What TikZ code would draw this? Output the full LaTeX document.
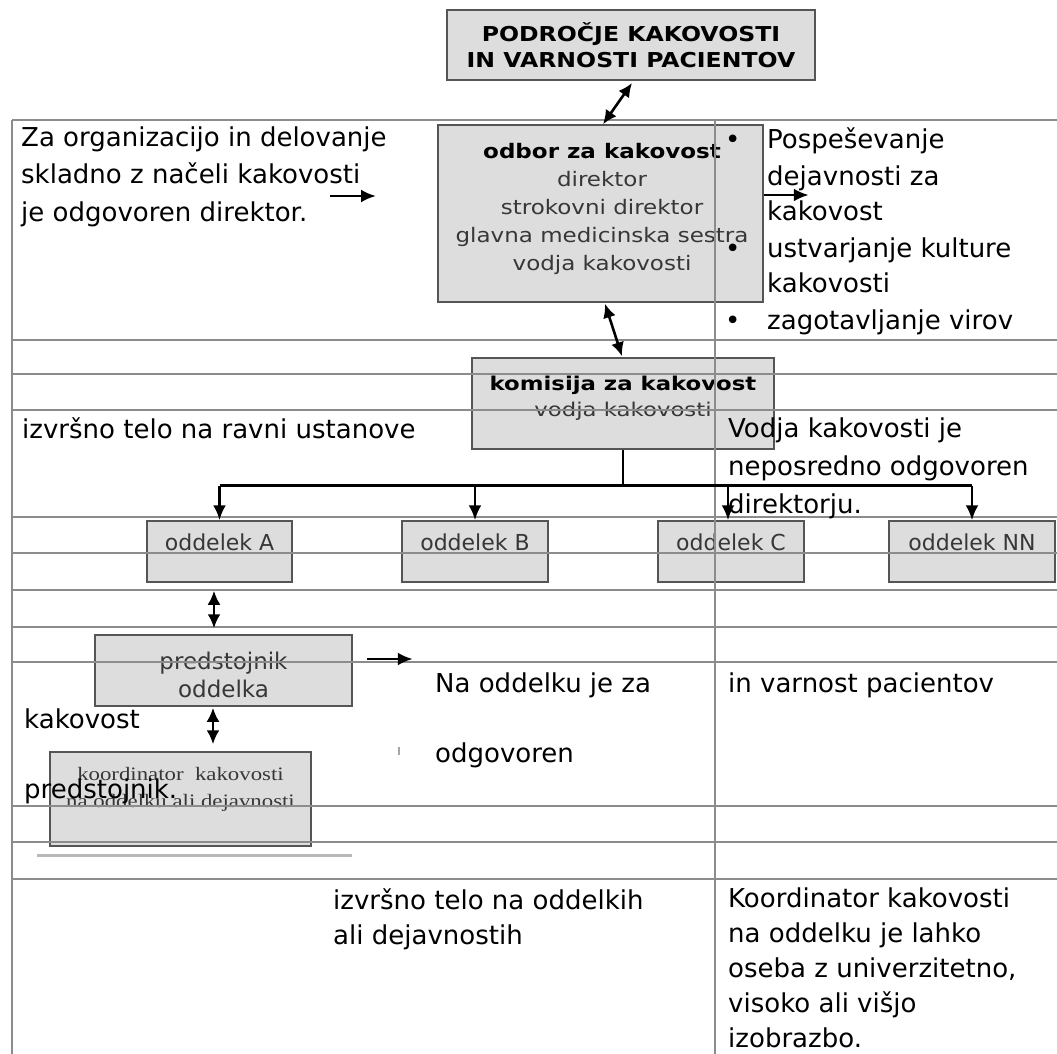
\documentclass[tikz,border=0pt]{standalone}
\usepackage{fontspec}
\setmainfont{DejaVu Sans}
\newfontfamily\boxf[FakeStretch=1.15]{DejaVu Sans}
\newfontfamily\komf[FakeStretch=1.2]{DejaVu Sans}
\newfontfamily\serf[FakeStretch=1.2]{Liberation Serif}
\usetikzlibrary{arrows.meta,calc}
\definecolor{boxfill}{RGB}{221,221,221}
\definecolor{boxline}{RGB}{85,85,85}
\definecolor{gridline}{RGB}{140,140,140}
\definecolor{boxtext}{RGB}{55,55,55}
\begin{document}
\begin{tikzpicture}[x=1pt,y=-1pt,
  box/.style={draw=boxline, line width=1.5pt, fill=boxfill, inner sep=0pt},
  body/.style={inner sep=0pt, anchor=base west, align=left, text=black},
  arr/.style={line width=2.6pt, -{Latex[length=15pt,width=13pt]}},
  darr/.style={line width=2.6pt, {Latex[length=14pt,width=13pt]}-{Latex[length=14pt,width=13pt]}},
  grid/.style={draw=gridline, line width=1.2pt},
  dept/.style={box, minimum width=#1, text height=29pt, text depth=32pt, text=boxtext, font=\fontsize{22}{26}\selectfont},
]
\fill[white] (0,0) rectangle (1057,1054);
\useasboundingbox (0,0) rectangle (1057,1054);

% boxes
\node[box, line width=2pt, minimum width=368pt, minimum height=70pt, align=center,
      font=\boxf\bfseries\fontsize{20.5}{26}\selectfont] (title) at (631,45)
      {PODROČJE KAKOVOSTI\\IN VARNOSTI PACIENTOV};
\node[box, minimum width=325pt, minimum height=177pt] (odbor) at (600.5,213.5) {};
\node[box, minimum width=302pt, minimum height=91pt] (kom) at (623,403.5) {};
\node[dept=145pt] (A) at (219.5,551.5) {oddelek A};
\node[dept=146pt] (B) at (475,551.5) {oddelek B};
\node[dept=146pt] (C) at (731,551.5) {oddelek C};
\node[dept=166pt] (NN) at (972,551.5) {oddelek NN};
\node[box, minimum width=257pt, minimum height=71pt] (pred) at (223.5,670.5) {};
\node[anchor=base, inner sep=0pt, align=center, text=boxtext,
      font=\fontsize{23}{28}\selectfont] (predtext) at (223.5,697) {predstojnik\\oddelka};
\node[box, minimum width=261pt, minimum height=94pt] (koord) at (180.5,799) {};

% box texts (base = baseline of last line)
\node[anchor=base, inner sep=0pt, align=center, text=boxtext,
      font=\boxf\fontsize{20}{28}\selectfont] (odbortext) at (602,270)
      {\textcolor{black}{\bfseries odbor za kakovost}\\direktor\\strokovni direktor\\glavna medicinska sestra\\vodja kakovosti};
\node[anchor=base, inner sep=0pt, align=center,
      font=\komf\fontsize{19}{26}\selectfont] (komtext) at (623,416)
      {\textbf{komisija za kakovost}\\\textcolor{boxtext}{vodja kakovosti}};
\node[anchor=base, inner sep=0pt, align=center, text=boxtext,
      font=\serf\fontsize{19}{27}\selectfont] (koordtext) at (180.5,807)
      {koordinator\ \ kakovosti\\na oddelku ali dejavnosti};

% table grid
\foreach \yy in {120,340,374,410,517,553,590,627,662,806,842,879}
  \draw[grid] (12,\yy) -- (1057,\yy);
\draw[grid] (12,120) -- (12,1054);
\draw[grid] (715,120) -- (715,1054);
\coordinate (sh1) at (37,855);
\coordinate (sh2) at (352,855);
\draw[line width=3pt, color=gray!55] (sh1) -- (sh2);
\coordinate (tk1) at (399,747);
\coordinate (tk2) at (399,755);
\draw[line width=2pt, color=gray!70] (tk1) -- (tk2);

% connectors
\draw[darr] ($(title.south)+(1,2)$) -- ($(odbor.north)+(2.5,0)$);
\draw[darr] ($(odbor.south)+(4.5,1)$) -- ($(kom.north)+(-1,-1)$);
\coordinate (la1) at (330,196);
\coordinate (la2) at (376,196);
\draw[arr] (la1) -- (la2);
\draw[arr] ($(odbor.east)+(0,-18.5)$) -- ++(45,0);
\draw[line width=2.6pt] (kom.south) -- ++(0,36) coordinate (junc);
\draw[line width=2.6pt] (A.north |- junc) -- (NN.north |- junc);
\draw[arr] (A.north |- junc) -- (A.north);
\draw[arr] (B.north |- junc) -- (B.north);
\draw[arr] ($(C.north |- junc)+(-3,0)$) -- ($(C.north)+(-3,0)$);
\draw[arr] (NN.north |- junc) -- (NN.north);
\draw[darr] ($(A.south)+(-5.5,8)$) -- ($(pred.north -| A.south)+(-5.5,-6)$);
\draw[darr] ($(pred.south)+(-10.5,1)$) -- ($(koord.north -| pred.south)+(-10.5,-7)$);
\draw[arr] ($(pred.east)+(14,-11.5)$) -- ++(46,0);

% body texts (base = baseline of last line)
\node[body, font=\fontsize{26}{37.5}\selectfont] (za) at (21,221)
  {Za organizacijo in delovanje\\skladno z načeli kakovosti\\je odgovoren direktor.};
\node[inner sep=0pt, anchor=base west, font=\fontsize{26}{36}\selectfont] (bul) at (725,149)
  {\begin{tabular}[t]{@{}p{42pt}@{}l@{}}
   •&Pospeševanje\\ &dejavnosti za\\ &kakovost\\
   •&ustvarjanje kulture\\ &kakovosti\\
   •&zagotavljanje virov\end{tabular}};
\node[body, font=\fontsize{26}{36}\selectfont] (ustanove) at (22,438) {izvršno telo na ravni ustanove};
\node[body, font=\fontsize{26}{38}\selectfont] (vodja) at (728,513)
  {Vodja kakovosti je\\neposredno odgovoren\\direktorju.};
\node[body, font=\fontsize{26}{36}\selectfont] (naodd) at (435,692) {Na oddelku je za};
\node[body, font=\fontsize{26}{36}\selectfont] (invarn) at (728,692) {in varnost pacientov};
\node[body, font=\fontsize{26}{36}\selectfont] (odg) at (435,762) {odgovoren};
\node[body, font=\fontsize{26}{36}\selectfont] (kak) at (24,728) {kakovost};
\node[body, font=\fontsize{26}{36}\selectfont] (preds) at (24,798) {predstojnik.};
\node[body, font=\fontsize{26}{35}\selectfont] (oddelkih) at (333,944)
  {izvršno telo na oddelkih\\ali dejavnostih};
\node[body, font=\fontsize{26}{34.8}\selectfont] (koordinfo) at (728,1047)
  {Koordinator kakovosti\\na oddelku je lahko\\oseba z univerzitetno,\\visoko ali višjo\\izobrazbo.};
\end{tikzpicture}
\end{document}
